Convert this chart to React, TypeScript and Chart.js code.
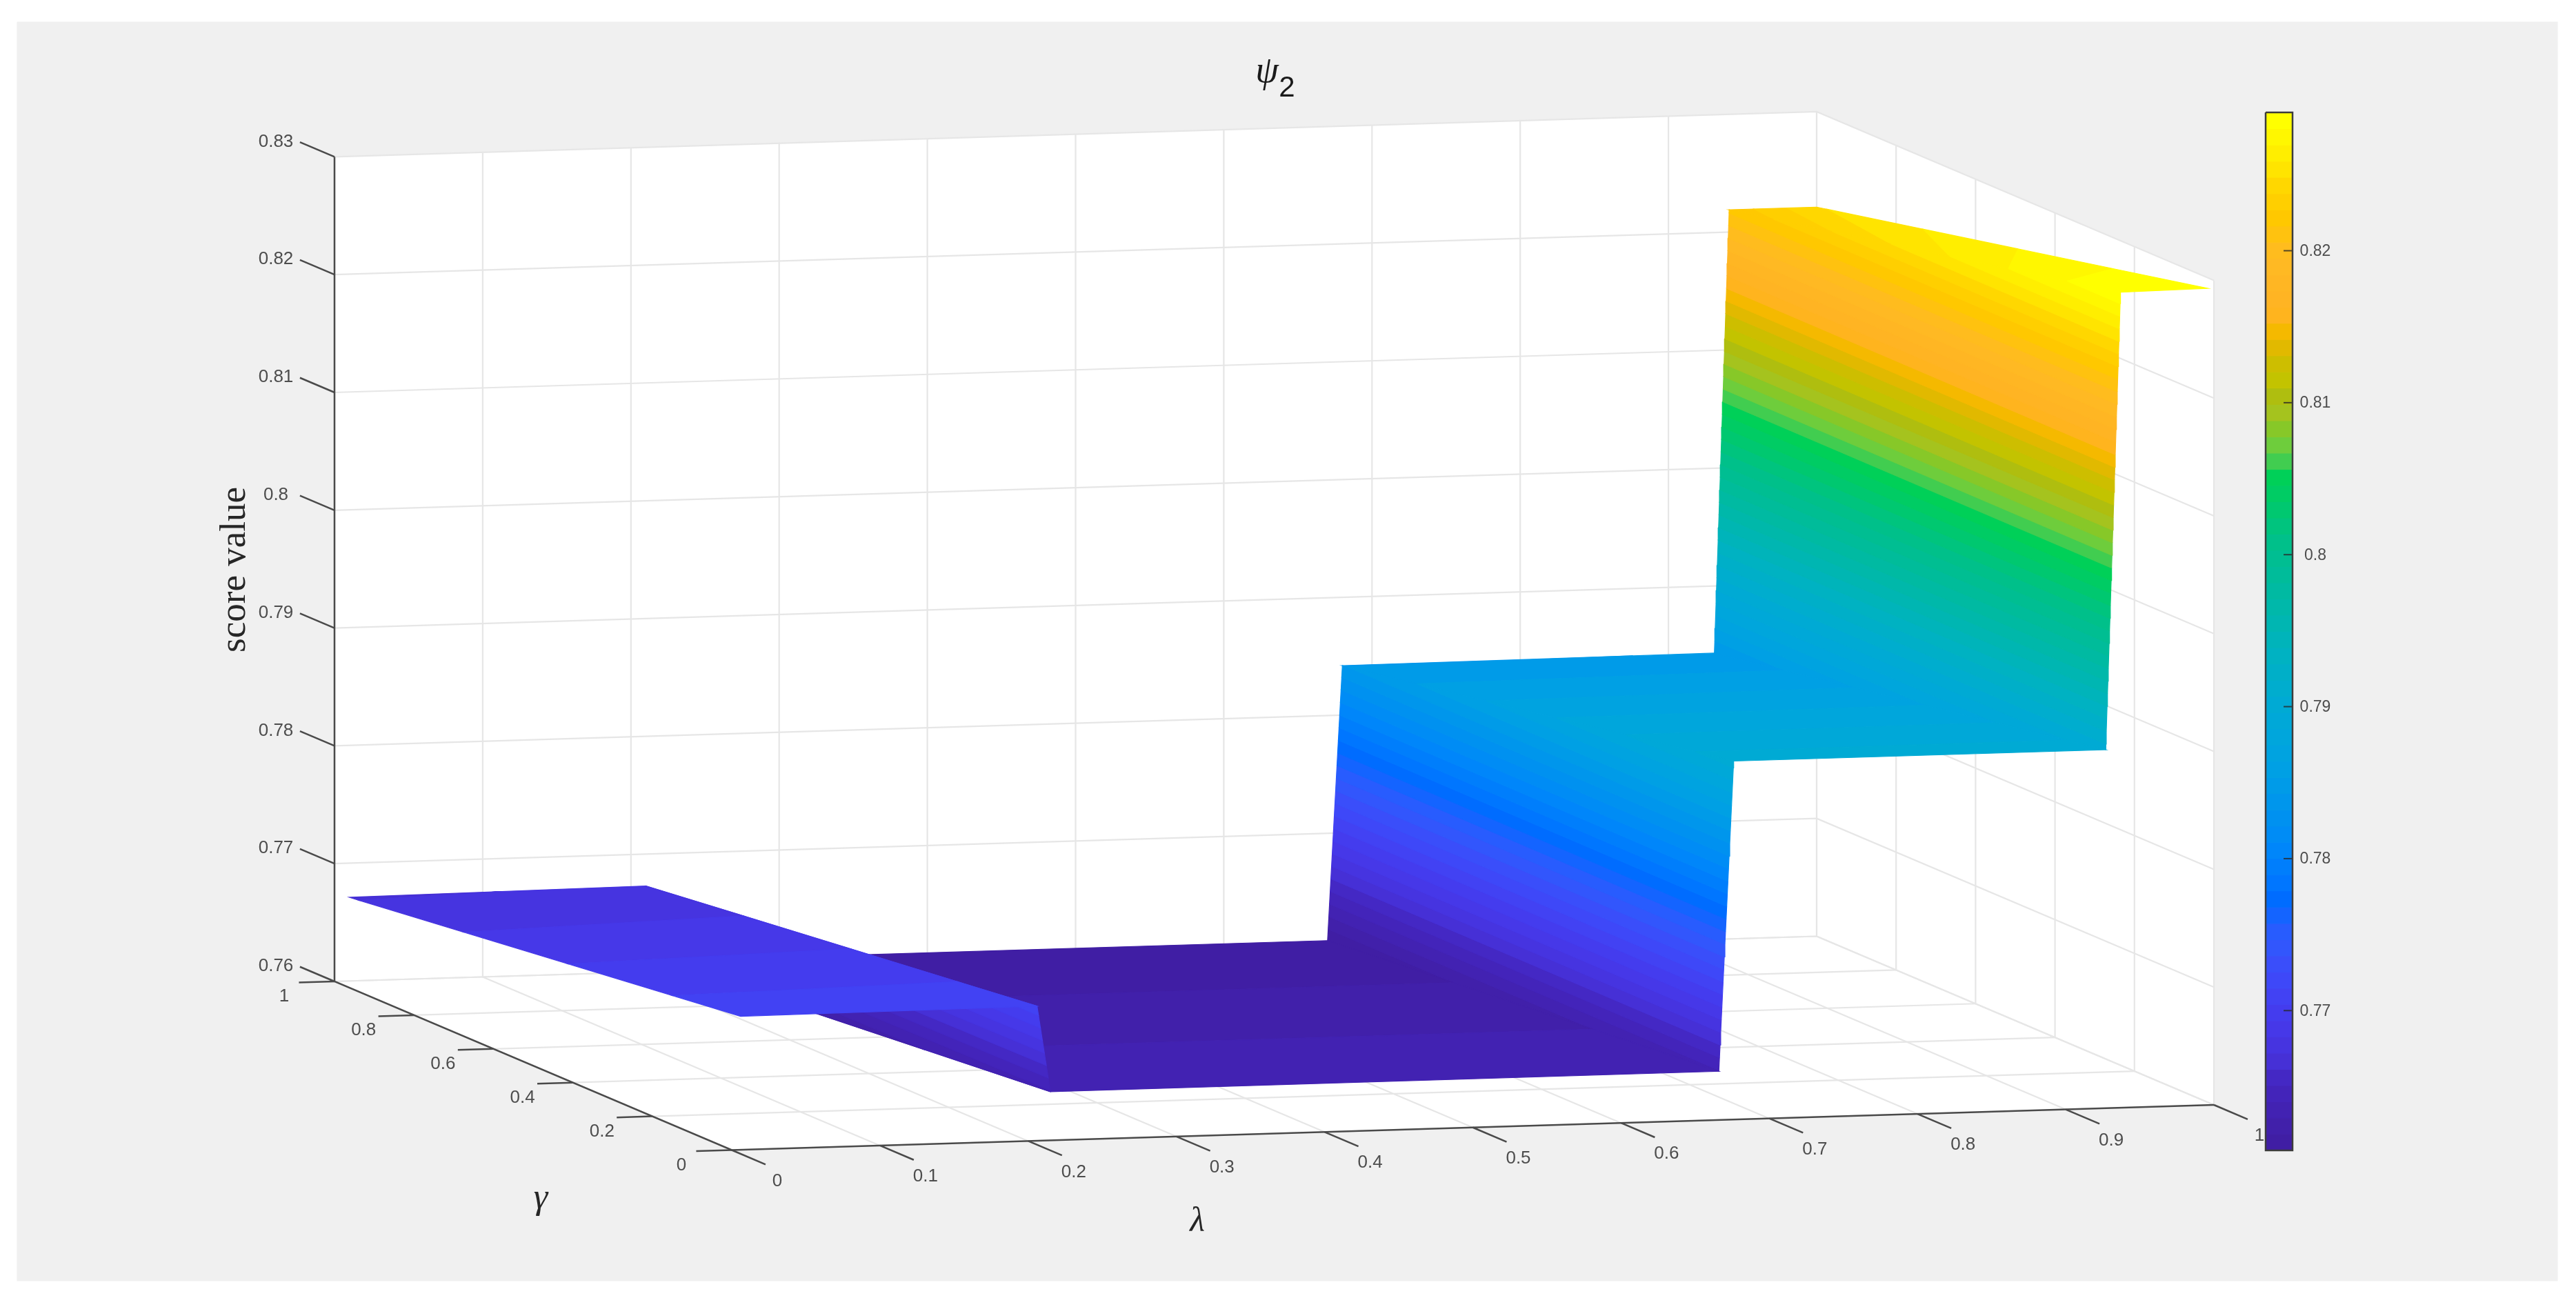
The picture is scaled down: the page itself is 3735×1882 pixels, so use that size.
import React, { useEffect, useRef } from "react";
import { Chart, registerables } from "chart.js";

Chart.register(...registerables);

// ---------- data ----------
const lambdaKnots = [0.01, 0.21, 0.219, 0.67, 0.68, 0.931, 0.941, 1.0];
const gammaRange = [0.015, 1];
const scoreAtGammaLow = [0.7711, 0.7712, 0.7639, 0.7639, 0.7902, 0.7902, 0.829, 0.8291];
const scoreAtGammaHigh = [0.7671, 0.7673, 0.7609, 0.7609, 0.7842, 0.7843, 0.8219, 0.8219];
// colour value of each vertex along the far edge (the surface's colour data)
const colorAtGammaHigh = [0.7671, 0.7673, 0.7609, 0.7609, 0.7842, 0.7843, 0.8219, 0.8247];
const lambdaTicks = [0, 0.1, 0.2, 0.3, 0.4, 0.5, 0.6, 0.7, 0.8, 0.9, 1];
const gammaTicks = [0, 0.2, 0.4, 0.6, 0.8, 1];
const scoreTicks = [0.76, 0.77, 0.78, 0.79, 0.8, 0.81, 0.82, 0.83];
const colorbarTicks = [0.77, 0.78, 0.79, 0.8, 0.81, 0.82];
const colorMin = 0.7608;
const colorMax = 0.8291;
const colormap: number[][] = [
  [64, 30, 164], [65, 32, 170], [66, 34, 178], [67, 36, 186], [68, 40, 196], [70, 48, 214], [70, 52, 224], [70, 56, 232],
  [68, 60, 238], [66, 66, 243], [62, 72, 248], [58, 78, 250], [50, 86, 252], [40, 92, 254], [20, 100, 255], [0, 108, 255],
  [0, 118, 255], [0, 126, 252], [0, 134, 250], [0, 140, 245], [0, 145, 240], [0, 150, 236], [0, 155, 232], [0, 160, 228],
  [0, 163, 224], [0, 166, 220], [0, 168, 216], [0, 170, 212], [0, 173, 206], [0, 175, 200], [0, 178, 194], [0, 180, 186],
  [0, 182, 178], [0, 184, 170], [0, 186, 162], [0, 188, 154], [0, 190, 146], [0, 192, 138], [0, 196, 126], [0, 200, 112],
  [0, 204, 100], [0, 208, 88], [65, 205, 80], [110, 205, 60], [135, 200, 40], [165, 195, 30], [175, 190, 15], [195, 195, 0],
  [205, 190, 0], [225, 185, 0], [245, 185, 0], [255, 180, 30], [255, 180, 35], [255, 182, 35], [255, 185, 35], [255, 188, 30],
  [255, 194, 15], [255, 200, 0], [255, 207, 0], [255, 215, 0], [255, 228, 0], [255, 238, 0], [255, 247, 0], [255, 255, 0],
];

// ---------- layout ----------
const W = 3735;
const H = 1882;
const Z0 = 0.76;
const Z1 = 0.83;
const FRONT = { x: 1061, y: 1667.5 };
const LAMBDA_VEC = { x: 2149, y: -65.5 };
const GAMMA_VEC = { x: -576, y: -244.5 };
const Z_SCALE = 17080;
const BAR = { left: 3285, right: 3324, top: 163, bottom: 1668 };
const PANEL = { left: 25, right: 3708, top: 32, bottom: 1857 };

type P = { x: number; y: number };
type V = { l: number; g: number; z: number; c: number };

const project = (l: number, g: number, z: number): P => ({
  x: FRONT.x + l * LAMBDA_VEC.x + g * GAMMA_VEC.x,
  y: FRONT.y + l * LAMBDA_VEC.y + g * GAMMA_VEC.y - (z - Z0) * Z_SCALE,
});
const barY = (v: number) => BAR.bottom - ((v - colorMin) / (colorMax - colorMin)) * (BAR.bottom - BAR.top);
const rgb = (c: number[]) => `rgb(${c[0]},${c[1]},${c[2]})`;

const GRID = "#e6e6e6";
const AXIS = "#4a4a4a";

const poly = (pts: P[], color: string) => ({
  data: [...pts, pts[0]],
  showLine: true,
  fill: "shape",
  backgroundColor: color,
  borderColor: color,
  borderWidth: 1.2,
  pointRadius: 0,
  tension: 0,
});
const seg = (pts: P[], color: string, width: number) => ({
  data: pts,
  showLine: true,
  fill: false,
  borderColor: color,
  borderWidth: width,
  pointRadius: 0,
  tension: 0,
});

// clip a facet to one band of the colormap
function clipBand(vs: V[], lo: number, hi: number): V[] {
  const clip = (input: V[], keep: (v: V) => boolean, level: number) => {
    const out: V[] = [];
    input.forEach((a, i) => {
      const b = input[(i + 1) % input.length];
      const ka = keep(a);
      const kb = keep(b);
      if (ka) out.push(a);
      if (ka !== kb) {
        const t = (level - a.c) / (b.c - a.c);
        out.push({ l: a.l + (b.l - a.l) * t, g: a.g + (b.g - a.g) * t, z: a.z + (b.z - a.z) * t, c: level });
      }
    });
    return out;
  };
  return clip(clip(vs, (v) => v.c >= lo, lo), (v) => v.c <= hi, hi);
}

function surfaceDatasets() {
  const out: any[] = [];
  const step = (colorMax - colorMin) / colormap.length;
  const [gLow, gHigh] = gammaRange;
  // farthest facet (largest lambda) first
  for (let i = lambdaKnots.length - 2; i >= 0; i--) {
    const quad: V[] = [
      { l: lambdaKnots[i], g: gLow, z: scoreAtGammaLow[i], c: scoreAtGammaLow[i] },
      { l: lambdaKnots[i + 1], g: gLow, z: scoreAtGammaLow[i + 1], c: scoreAtGammaLow[i + 1] },
      { l: lambdaKnots[i + 1], g: gHigh, z: scoreAtGammaHigh[i + 1], c: colorAtGammaHigh[i + 1] },
      { l: lambdaKnots[i], g: gHigh, z: scoreAtGammaHigh[i], c: colorAtGammaHigh[i] },
    ];
    colormap.forEach((c, k) => {
      const lo = k === 0 ? -1 : colorMin + k * step;
      const hi = k === colormap.length - 1 ? 2 : colorMin + (k + 1) * step;
      const piece = clipBand(quad, lo, hi);
      if (piece.length >= 3) out.push(poly(piece.map((v) => project(v.l, v.g, v.z)), rgb(c)));
    });
  }
  return out;
}

function buildDatasets() {
  const ds: any[] = [];
  // backgrounds
  ds.push(
    poly(
      [
        { x: PANEL.left, y: PANEL.top },
        { x: PANEL.right, y: PANEL.top },
        { x: PANEL.right, y: PANEL.bottom },
        { x: PANEL.left, y: PANEL.bottom },
      ],
      "#f0f0f0"
    )
  );
  ds.push(
    poly(
      [project(0, 1, Z0), project(0, 1, Z1), project(1, 1, Z1), project(1, 0, Z1), project(1, 0, Z0), project(0, 0, Z0)],
      "#ffffff"
    )
  );
  // grid
  scoreTicks.forEach((z) => {
    ds.push(seg([project(0, 1, z), project(1, 1, z), project(1, 0, z)], GRID, 2.2));
  });
  lambdaTicks.forEach((l) => {
    ds.push(seg([project(l, 0, Z0), project(l, 1, Z0), project(l, 1, Z1)], GRID, 2.2));
  });
  gammaTicks.forEach((g) => {
    ds.push(seg([project(0, g, Z0), project(1, g, Z0), project(1, g, Z1)], GRID, 2.2));
  });
  // surface
  ds.push(...surfaceDatasets());
  // axes and ticks
  ds.push(seg([project(0, 1, Z1), project(0, 1, Z0), project(0, 0, Z0), project(1, 0, Z0)], AXIS, 2.5));
  lambdaTicks.forEach((l) => {
    ds.push(seg([project(l, 0, Z0), project(l, -0.085, Z0)], AXIS, 2.5));
  });
  gammaTicks.forEach((g) => {
    ds.push(seg([project(0, g, Z0), project(-0.024, g, Z0)], AXIS, 2.5));
  });
  scoreTicks.forEach((z) => {
    ds.push(seg([project(0, 1, z), project(0, 1.087, z)], AXIS, 2.5));
  });
  // colorbar
  const bandH = (BAR.bottom - BAR.top) / colormap.length;
  colormap.forEach((c, k) => {
    const yb = BAR.bottom - k * bandH;
    const yt = yb - bandH;
    ds.push(
      poly([{ x: BAR.left, y: yb }, { x: BAR.right, y: yb }, { x: BAR.right, y: yt }, { x: BAR.left, y: yt }], rgb(c))
    );
  });
  colorbarTicks.forEach((v) => {
    ds.push(seg([{ x: BAR.right - 13, y: barY(v) }, { x: BAR.right, y: barY(v) }], "rgba(40,40,40,0.8)", 2));
  });
  ds.push(
    seg(
      [
        { x: BAR.left, y: BAR.top },
        { x: BAR.right, y: BAR.top },
        { x: BAR.right, y: BAR.bottom },
        { x: BAR.left, y: BAR.bottom },
        { x: BAR.left, y: BAR.top },
      ],
      "#3c3c3c",
      2.5
    )
  );
  // first painted = highest order value
  ds.forEach((d, i) => (d.order = ds.length - i));
  return ds;
}

const labelsPlugin = {
  id: "labels3d",
  afterDatasetsDraw(chart: any) {
    const { ctx, scales } = chart;
    const sx = (v: number) => scales.x.getPixelForValue(v);
    const sy = (v: number) => scales.y.getPixelForValue(v);
    const text = (s: string, p: P, font: string, color = "#4d4d4d", rot = 0) => {
      ctx.save();
      ctx.translate(sx(p.x), sy(p.y));
      ctx.rotate(rot);
      ctx.font = font;
      ctx.fillStyle = color;
      ctx.textAlign = "center";
      ctx.textBaseline = "middle";
      ctx.fillText(s, 0, 0);
      ctx.restore();
    };
    const tickFont = "26px 'Liberation Sans'";
    lambdaTicks.forEach((l) => {
      const p = project(l, 0, Z0);
      text(String(l), { x: p.x + 66, y: p.y + 45 }, tickFont);
    });
    gammaTicks.forEach((g) => {
      const p = project(0, g, Z0);
      text(String(g), { x: p.x - 73, y: p.y + 22 }, tickFont);
    });
    scoreTicks.forEach((z) => {
      const p = project(0, 1, z);
      text(String(z), { x: p.x - 85, y: p.y - 22 }, tickFont);
    });
    colorbarTicks.forEach((v) => {
      text(String(v), { x: BAR.right + 33, y: barY(v) + 1 }, "23px 'Liberation Sans'");
    });
    const serif = "'Liberation Serif'";
    text("score value", { x: 341, y: 826 }, `53px ${serif}`, "#262626", -Math.PI / 2);
    text("γ", { x: 784, y: 1738 }, `italic 52px ${serif}`, "#262626");
    text("λ", { x: 1736, y: 1772 }, `italic 50px ${serif}`, "#262626");
    text("ψ", { x: 1837, y: 105 }, `italic 54px ${serif}`, "#1a1a1a");
    text("2", { x: 1866, y: 128 }, "42px 'Liberation Sans'", "#1a1a1a");
  },
};

export default function App() {
  const ref = useRef<HTMLCanvasElement | null>(null);
  useEffect(() => {
    document.body.style.margin = "0";
    document.body.style.background = "#ffffff";
    const chart = new Chart(ref.current as HTMLCanvasElement, {
      type: "scatter",
      data: { datasets: buildDatasets() },
      options: {
        animation: false,
        responsive: false,
        devicePixelRatio: 1,
        layout: { padding: 0 },
        events: [],
        plugins: { legend: { display: false }, tooltip: { enabled: false }, title: { display: false } },
        scales: {
          x: { type: "linear", min: 0, max: W, display: false },
          y: { type: "linear", min: 0, max: H, reverse: true, display: false },
        },
      },
      plugins: [labelsPlugin],
    } as any);
    return () => chart.destroy();
  }, []);
  return <canvas ref={ref} width={W} height={H} style={{ display: "block", width: W, height: H }} />;
}
